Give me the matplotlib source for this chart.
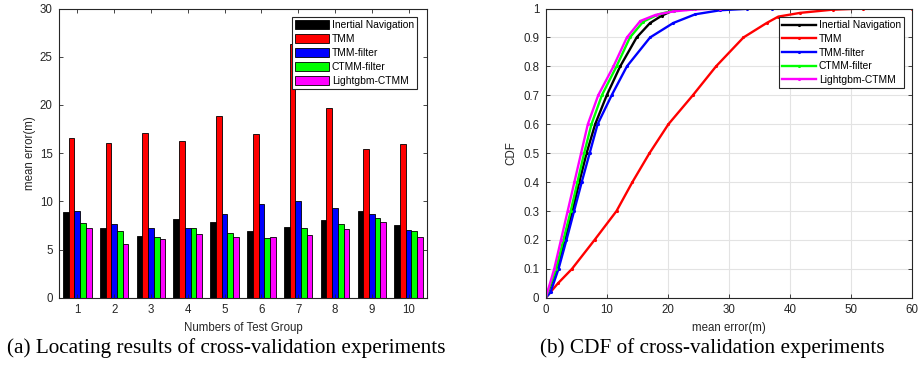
import matplotlib.pyplot as plt
import numpy as np

groups = [1, 2, 3, 4, 5, 6, 7, 8, 9, 10]
methods = ["Inertial Navigation", "TMM", "TMM-filter", "CTMM-filter", "Lightgbm-CTMM"]
colors = ["#000000", "#FF0000", "#0000FF", "#00FF00", "#FF00FF"]

# (a) mean error per test group
inertial = [8.85, 7.2, 6.4, 8.15, 7.85, 6.95, 7.35, 8.1, 9.05, 7.55]
tmm = [16.6, 16.1, 17.1, 16.25, 18.85, 16.95, 26.3, 19.65, 15.4, 15.9]
tmm_filter = [9.0, 7.7, 7.2, 7.2, 8.65, 9.75, 10.0, 9.3, 8.7, 7.0]
ctmm_filter = [7.8, 6.9, 6.35, 7.2, 6.75, 6.2, 7.25, 7.65, 8.3, 6.95]
lightgbm = [7.25, 5.6, 6.1, 6.65, 6.35, 6.3, 6.55, 7.15, 7.9, 6.3]
bar_values = [inertial, tmm, tmm_filter, ctmm_filter, lightgbm]

# (b) CDF curves (x = mean error, y = CDF)
cdf_inertial_x = [0, 1.9, 3.2, 4.4, 5.5, 6.7, 8.1, 10.0, 12.2, 14.9, 17.1, 19.0, 21.0, 23.0]
cdf_inertial_y = [0, 0.1, 0.2, 0.3, 0.4, 0.5, 0.6, 0.7, 0.8, 0.9, 0.95, 0.975, 0.995, 1.0]
cdf_tmm_x = [0, 2.0, 4.3, 8.0, 11.6, 14.2, 17.0, 20.1, 24.1, 27.9, 32.4, 36.2, 38.1, 41.7, 47.0, 52.0, 60.0]
cdf_tmm_y = [0, 0.05, 0.1, 0.2, 0.3, 0.4, 0.5, 0.6, 0.7, 0.8, 0.9, 0.95, 0.972, 0.985, 0.996, 1.0, 1.0]
cdf_tmmf_x = [0, 0.8, 2.1, 3.4, 4.65, 5.9, 7.2, 8.5, 10.8, 13.3, 17.1, 20.9, 24.5, 28.6, 33.0, 37.0]
cdf_tmmf_y = [0, 0.02, 0.1, 0.2, 0.3, 0.4, 0.5, 0.6, 0.7, 0.8, 0.9, 0.95, 0.98, 0.994, 0.999, 1.0]
cdf_ctmm_x = [0, 1.7, 2.9, 4.1, 5.2, 6.3, 7.5, 9.2, 11.6, 13.8, 16.0, 18.5, 21.0, 24.0]
cdf_ctmm_y = [0, 0.1, 0.2, 0.3, 0.4, 0.5, 0.6, 0.7, 0.8, 0.9, 0.955, 0.98, 0.993, 1.0]
cdf_lgbm_x = [0, 1.4, 2.5, 3.6, 4.7, 5.8, 6.9, 8.6, 11.1, 13.3, 15.5, 18.0, 20.9, 24.5, 28.6]
cdf_lgbm_y = [0, 0.1, 0.2, 0.3, 0.4, 0.5, 0.6, 0.7, 0.8, 0.9, 0.957, 0.978, 0.99, 0.997, 1.0]
cdf_x = [cdf_inertial_x, cdf_tmm_x, cdf_tmmf_x, cdf_ctmm_x, cdf_lgbm_x]
cdf_y = [cdf_inertial_y, cdf_tmm_y, cdf_tmmf_y, cdf_ctmm_y, cdf_lgbm_y]

plt.rcParams['font.family'] = ['Liberation Sans', 'DejaVu Sans']
dark = "#262626"

fig = plt.figure(figsize=(9.21, 3.70), dpi=100)
ax1 = fig.add_axes([0.064, 0.195, 0.3996, 0.782])
ax2 = fig.add_axes([0.5925, 0.195, 0.3977, 0.782])

# (a) grouped bars
x = np.array(groups, dtype=float)
w = 0.155
for i in range(5):
    ax1.bar(x + (i - 2) * w, bar_values[i], w, color=colors[i], edgecolor="black",
            linewidth=0.6, label=methods[i])
ax1.set_xlim(0.5, 10.5)
ax1.set_ylim(0, 30)
ax1.set_xticks(groups)
ax1.set_yticks(range(0, 31, 5))
ax1.set_xlabel("Numbers of Test Group", fontsize=8.3, color=dark, labelpad=4)
ax1.set_ylabel("mean error(m)", fontsize=8.3, color=dark, labelpad=3)
leg1 = ax1.legend(loc="upper right", bbox_to_anchor=(0.973, 0.970), borderaxespad=0,
                  fontsize=7.4, fancybox=False, edgecolor=dark, framealpha=1,
                  borderpad=0.3, handlelength=3.3, handleheight=1.0,
                  handletextpad=0.25, labelspacing=0.36)
leg1.get_frame().set_linewidth(0.8)

# (b) CDF
for i in range(5):
    ax2.plot(cdf_x[i], cdf_y[i], color=colors[i], linewidth=1.7, marker=".",
             markersize=2.5, label=methods[i])
ax2.set_xlim(0, 60)
ax2.set_ylim(0, 1)
ax2.set_xticks(range(0, 61, 10))
ax2.set_yticks(np.arange(0, 1.01, 0.1))
ax2.set_yticklabels(["0", "0.1", "0.2", "0.3", "0.4", "0.5", "0.6", "0.7", "0.8", "0.9", "1"])
ax2.grid(True, color="#e3e3e3", linewidth=0.8)
ax2.set_axisbelow(True)
ax2.set_xlabel("mean error(m)", fontsize=8.3, color=dark, labelpad=4)
ax2.set_ylabel("CDF", fontsize=8.3, color=dark, labelpad=4)
leg2 = ax2.legend(loc="upper right", bbox_to_anchor=(0.978, 0.970), borderaxespad=0,
                  fontsize=7.4, fancybox=False, edgecolor=dark, framealpha=1,
                  borderpad=0.3, handlelength=3.3, numpoints=1,
                  handletextpad=0.25, labelspacing=0.36)
leg2.get_frame().set_linewidth(0.8)

for ax in (ax1, ax2):
    ax.tick_params(direction="in", top=True, right=True, labelsize=8.3,
                   colors=dark, length=3, width=0.6, pad=4.5)
    for s in ax.spines.values():
        s.set_color(dark)
        s.set_linewidth(0.8)

fig.text(0.246, 0.06, "(a) Locating results of cross-validation experiments",
         ha="center", va="center", fontsize=15.3, family="Liberation Serif")
fig.text(0.773, 0.06, "(b) CDF of cross-validation experiments",
         ha="center", va="center", fontsize=15.3, family="Liberation Serif")

fig.savefig("out.png", dpi=100)
